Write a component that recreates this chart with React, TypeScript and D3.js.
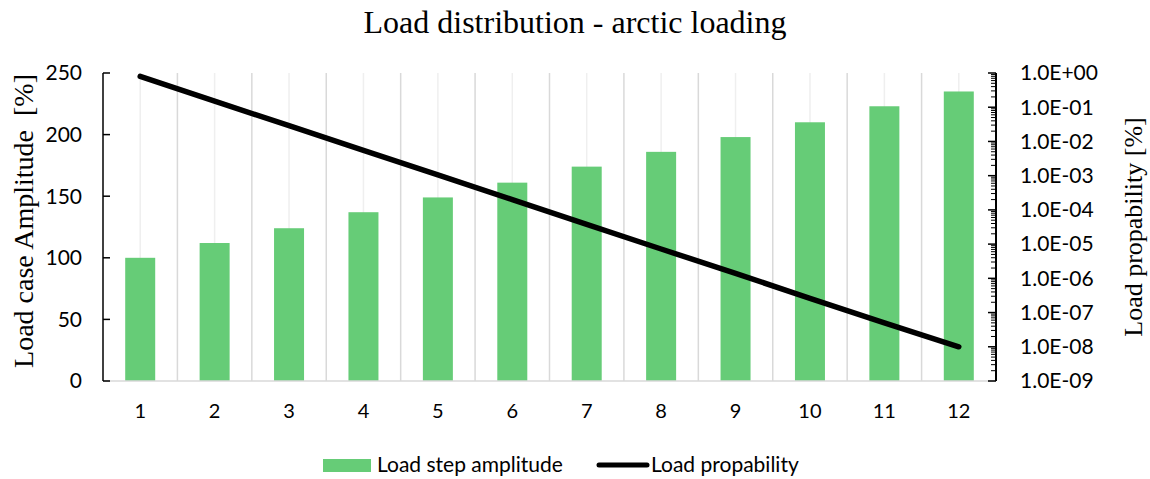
import React, { useEffect, useRef } from "react";
import * as d3 from "d3";

// chart data
const steps = ["1", "2", "3", "4", "5", "6", "7", "8", "9", "10", "11", "12"];
const amplitude = [100, 112, 124, 137, 149, 161, 174, 186, 198, 210, 223, 235];
const probability = [
  0.8, 0.15, 0.029, 5.5e-3, 1.05e-3, 2.0e-4, 3.8e-5, 7.2e-6, 1.4e-6, 2.6e-7, 5e-8, 1e-8,
];
const leftTicks = [0, 50, 100, 150, 200, 250];
const rightTicks = [1, 1e-1, 1e-2, 1e-3, 1e-4, 1e-5, 1e-6, 1e-7, 1e-8, 1e-9];

const GREEN = "#66cc77";
const SANS = "Lato, 'Open Sans', sans-serif";
const SERIF = "'Liberation Serif', 'Times New Roman', serif";

const fmtExp = (v: number) => {
  const e = Math.round(Math.log10(v));
  const sign = e < 0 ? "-" : "+";
  return `1.0E${sign}${String(Math.abs(e)).padStart(2, "0")}`;
};

export default function App() {
  const ref = useRef<SVGSVGElement>(null);

  useEffect(() => {
    const width = 1150;
    const left = 103;
    const right = 996;
    const top = 73;
    const bottom = 381;

    const svg = d3.select(ref.current);
    svg.selectAll("*").remove();

    const x = d3.scaleBand().domain(steps).range([left, right]);
    const y = d3.scaleLinear().domain([0, 250]).range([bottom, top]);
    const y2 = d3.scaleLog().domain([1e-9, 1]).range([bottom, top]);

    // title
    svg
      .append("text")
      .attr("x", width / 2)
      .attr("y", 33)
      .attr("text-anchor", "middle")
      .style("font-family", SERIF)
      .style("font-size", "32px")
      .text("Load distribution - arctic loading");

    // grid: light at centres, darker at boundaries
    const grid = svg.append("g");
    steps.forEach((s) => {
      const cx = x(s)! + x.bandwidth() / 2;
      grid
        .append("line")
        .attr("x1", cx)
        .attr("x2", cx)
        .attr("y1", top)
        .attr("y2", bottom)
        .attr("stroke", "#efefef")
        .attr("stroke-width", 1.5);
      const bx = x(s)! + x.bandwidth();
      if (bx < right - 1) {
        grid
          .append("line")
          .attr("x1", bx)
          .attr("x2", bx)
          .attr("y1", top)
          .attr("y2", bottom)
          .attr("stroke", "#d9d9d9")
          .attr("stroke-width", 1.5);
      }
    });

    // bars
    const barW = 30;
    svg
      .append("g")
      .selectAll("rect")
      .data(amplitude)
      .enter()
      .append("rect")
      .attr("x", (d, i) => x(steps[i])! + x.bandwidth() / 2 - barW / 2)
      .attr("y", (d) => y(d))
      .attr("width", barW)
      .attr("height", (d) => bottom - y(d))
      .attr("fill", GREEN);

    // x axis line
    svg
      .append("line")
      .attr("x1", left)
      .attr("x2", right)
      .attr("y1", bottom)
      .attr("y2", bottom)
      .attr("stroke", "#d9d9d9")
      .attr("stroke-width", 1.5);

    // x labels
    svg
      .append("g")
      .selectAll("text")
      .data(steps)
      .enter()
      .append("text")
      .attr("x", (d) => x(d)! + x.bandwidth() / 2)
      .attr("y", 418)
      .attr("text-anchor", "middle")
      .style("font-family", SANS)
      .style("font-size", "20px")
      .text((d) => d);

    // left axis
    const ly = svg.append("g").attr("transform", `translate(${left},0)`);
    ly.append("line")
      .attr("y1", top)
      .attr("y2", bottom)
      .attr("stroke", "#000")
      .attr("stroke-width", 1.5);
    leftTicks.forEach((t) => {
      ly.append("line")
        .attr("x1", 0)
        .attr("x2", 7)
        .attr("y1", y(t))
        .attr("y2", y(t))
        .attr("stroke", "#000")
        .attr("stroke-width", 1.5);
      ly.append("text")
        .attr("x", -21)
        .attr("y", y(t))
        .attr("dy", "0.35em")
        .attr("text-anchor", "end")
        .style("font-family", SANS)
        .style("font-size", "21px")
        .text(t);
    });

    // right axis (log)
    const ry = svg.append("g").attr("transform", `translate(${right},0)`);
    ry.append("line")
      .attr("y1", top)
      .attr("y2", bottom)
      .attr("stroke", "#000")
      .attr("stroke-width", 2);
    for (let e = -9; e < 0; e++) {
      for (let m = 2; m <= 9; m++) {
        const v = m * Math.pow(10, e);
        ry.append("line")
          .attr("x1", -5)
          .attr("x2", 0)
          .attr("y1", y2(v))
          .attr("y2", y2(v))
          .attr("stroke", "#000")
          .attr("stroke-width", 1);
      }
    }
    rightTicks.forEach((t) => {
      ry.append("line")
        .attr("x1", -8)
        .attr("x2", 0)
        .attr("y1", y2(t))
        .attr("y2", y2(t))
        .attr("stroke", "#000")
        .attr("stroke-width", 1.5);
      ry.append("text")
        .attr("x", 24)
        .attr("y", y2(t))
        .attr("dy", "0.35em")
        .style("font-family", SANS)
        .style("font-size", "21px")
        .text(fmtExp(t));
    });

    // probability line
    const line = d3
      .line<number>()
      .x((d, i) => x(steps[i])! + x.bandwidth() / 2)
      .y((d) => y2(d));
    svg
      .append("path")
      .datum(probability)
      .attr("d", line)
      .attr("fill", "none")
      .attr("stroke", "#000")
      .attr("stroke-width", 5.5)
      .attr("stroke-linecap", "round")
      .attr("stroke-linejoin", "round");

    // axis titles
    svg
      .append("text")
      .attr("transform", `translate(33,221) rotate(-90)`)
      .attr("text-anchor", "middle")
      .style("font-family", SERIF)
      .style("font-size", "28px")
      .style("white-space", "pre")
      .text("Load case Amplitude  [%]");
    svg
      .append("text")
      .attr("transform", `translate(1142,${(top + bottom) / 2}) rotate(-90)`)
      .attr("text-anchor", "middle")
      .style("font-family", SERIF)
      .style("font-size", "26px")
      .text("Load propability [%]");

    // legend
    const lg = svg.append("g").style("font-family", SANS).style("font-size", "21px");
    lg.append("rect")
      .attr("x", 323)
      .attr("y", 459)
      .attr("width", 48)
      .attr("height", 13)
      .attr("fill", GREEN);
    lg.append("text").attr("x", 377).attr("y", 472).text("Load step amplitude");
    lg.append("line")
      .attr("x1", 599)
      .attr("x2", 647)
      .attr("y1", 465)
      .attr("y2", 465)
      .attr("stroke", "#000")
      .attr("stroke-width", 5)
      .attr("stroke-linecap", "round");
    lg.append("text").attr("x", 651).attr("y", 472).text("Load propability");
  }, []);

  return (
    <svg
      ref={ref}
      width={1150}
      height={479}
      style={{ position: "absolute", left: 0, top: 0, background: "#fff" }}
    />
  );
}
